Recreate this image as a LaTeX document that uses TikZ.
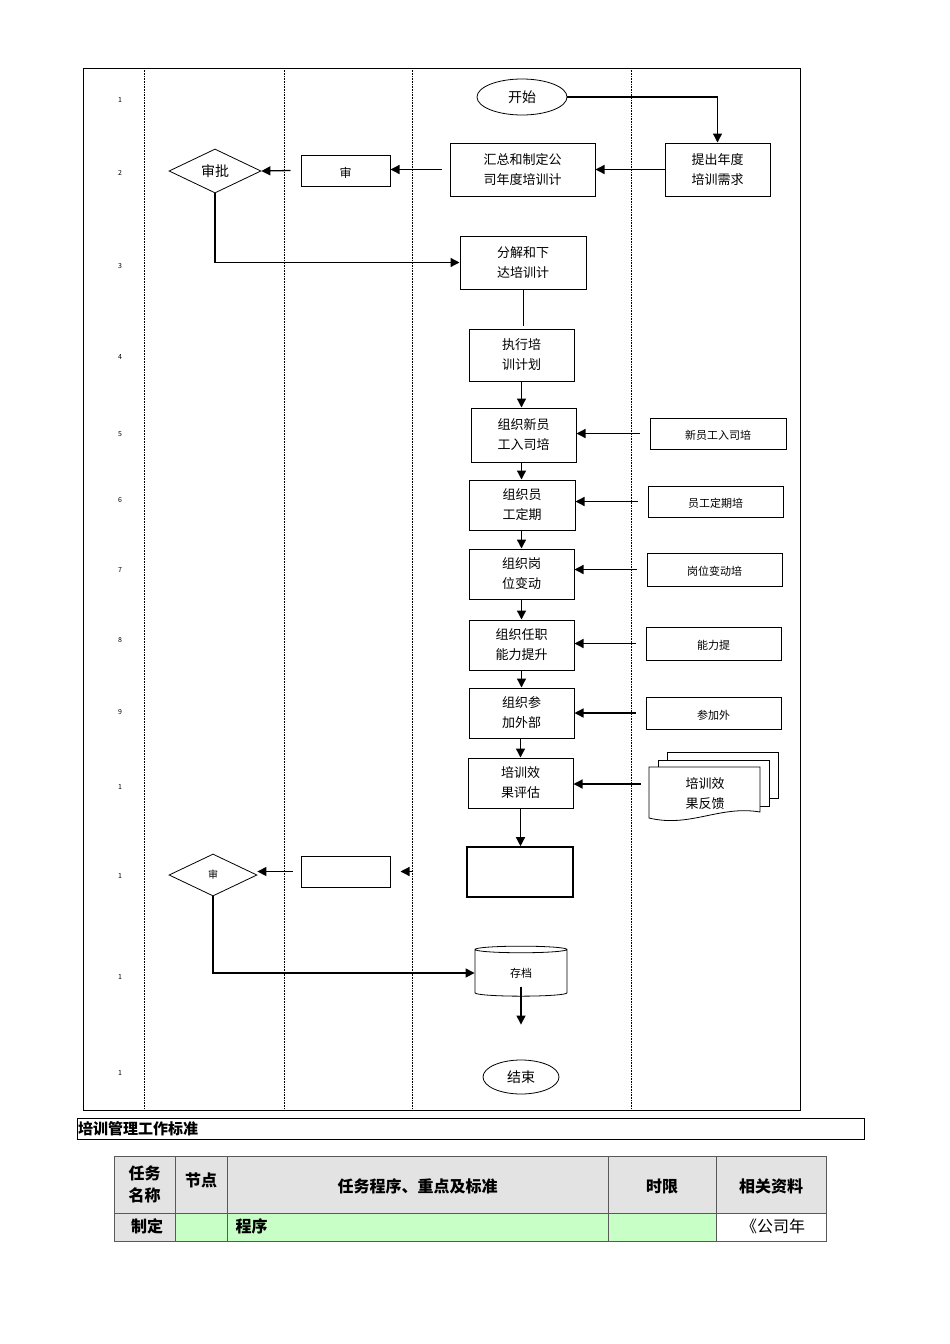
\documentclass[tikz,border=0pt]{standalone}
\usepackage{fontspec}
\setmainfont{Noto Sans CJK SC}
\usetikzlibrary{shapes.geometric,arrows.meta}
\begin{document}
\begin{tikzpicture}[x=1pt,y=-1pt,
  box/.style={draw,line width=1pt,fill=white,align=center,font=\fontsize{13}{20}\selectfont,inner sep=0},
  arr/.style={-{Triangle[length=9pt,width=9pt]},line width=1.3pt},
  lane/.style={densely dotted,line width=0.6pt},
  num/.style={font=\fontsize{7}{8}\selectfont},
  rb/.style={box,font=\fontsize{11}{13}\selectfont},
  th/.style={font=\bfseries\fontsize{16}{22}\selectfont,align=center},
  cell/.style={draw=gray!70!black,line width=0.6pt}]
\useasboundingbox (0,0) rectangle (950,1344);
% frame
\draw[line width=1pt] (83,68) rectangle (800,1110);
\foreach \x in {144,284,412,631} \draw[lane] (\x,68) -- (\x,1110);
\foreach \y/\t in {100/1,173/2,266/3,357/4,434/5,500/6,570/7,640/8,712/9,787/1,876/1,977/1,1073/1}
  \node[num] at (120,\y) {\t};
% nodes
\node[draw,ellipse,line width=0.8pt,minimum width=90,minimum height=36,font=\fontsize{14}{16}\selectfont] (start) at (522,97) {开始};
\node[box,minimum width=105,minimum height=53] (req) at (717.5,169.5) {提出年度\\培训需求};
\node[box,minimum width=145,minimum height=53] (sum) at (522.5,169.5) {汇总和制定公\\司年度培训计};
\node[box,minimum width=89,minimum height=31,font=\fontsize{12}{14}\selectfont] (rev1) at (345.5,170.5) {\\审};
\node[draw,diamond,aspect=2.1,line width=0.8pt,minimum width=92,minimum height=44,inner sep=0,font=\fontsize{14}{16}\selectfont] (app1) at (215,171) {审批};
\node[box,minimum width=126,minimum height=53] (dec) at (523,262.5) {分解和下\\达培训计};
\node[box,minimum width=105,minimum height=52] (exe) at (521.5,355) {执行培\\训计划};
\node[box,minimum width=105,minimum height=54] (n1) at (523.5,435) {组织新员\\工入司培};
\node[box,minimum width=106,minimum height=50] (n2) at (522,505) {组织员\\工定期};
\node[box,minimum width=105,minimum height=50] (n3) at (521.5,574) {组织岗\\位变动};
\node[box,minimum width=105,minimum height=50] (n4) at (521.5,645) {组织任职\\能力提升};
\node[box,minimum width=105,minimum height=50] (n5) at (521.5,713) {组织参\\加外部};
\node[box,minimum width=105,minimum height=50] (n6) at (520.5,783) {培训效\\果评估};
\node[box,line width=1.6pt,minimum width=106,minimum height=50] (n7) at (520,872) {};
\node[box,minimum width=89,minimum height=31] (rev2) at (345.5,871.5) {};
\node[draw,diamond,aspect=2.1,line width=0.8pt,minimum width=88,minimum height=42,inner sep=0,font=\fontsize{10}{11}\selectfont] (app2) at (213,875) {审};
\node[draw,cylinder,shape border rotate=90,aspect=0.3,line width=0.8pt,minimum width=92,minimum height=50,inner sep=0,font=\fontsize{11}{13}\selectfont] (arch) at (521,973) {\\存档};
\node[draw,ellipse,line width=0.8pt,minimum width=76,minimum height=34,font=\fontsize{14}{16}\selectfont] (end) at (521,1077) {结束};
% right side inputs
\node[rb,minimum width=136,minimum height=31] (r1) at (718,433.5) {\\新员工入司培};
\node[rb,minimum width=135,minimum height=31] (r2) at (715.5,501.5) {\\员工定期培};
\node[rb,minimum width=135,minimum height=33] (r3) at (714.5,569.5) {\\岗位变动培};
\node[rb,minimum width=135,minimum height=33] (r4) at (713.5,643.5) {\\能力提};
\node[rb,minimum width=135,minimum height=32] (r5) at (713.5,713) {\\参加外};
% document stack
\draw[line width=0.8pt,fill=white] (667,752) -- (778,752) -- (778,798) -- (667,798) -- cycle;
\draw[line width=0.8pt,fill=white] (658,760) -- (769,760) -- (769,806) -- (658,806) -- cycle;
\draw[line width=0.8pt,fill=white] (649,767) -- (760,767) -- (760,812) .. controls (720,805) and (690,828) .. (649,818) -- cycle;
\node[font=\fontsize{13}{20}\selectfont,align=center] (r6) at (705,794) {培训效\\果反馈};
\coordinate (r6w) at (641,784);
% connectors
\draw[arr] (start.east) -| (req.north);
\draw[arr] (req.west) -- (sum.east);
\draw[arr] ([xshift=-8pt]sum.west) -- (rev1.east |- sum.west);
\draw[arr] ([xshift=-10pt]rev1.west) -- (app1.east);
\draw[arr] (app1.south) |- (dec.west);
\draw[line width=1pt] (dec.south) -- ++(0,36);
\draw[arr] (exe.south) -- (n1.north -| exe.south);
\draw[arr] (n1.south -| exe.south) -- (n2.north -| exe.south);
\draw[arr] (n2.south -| exe.south) -- (n3.north -| exe.south);
\draw[arr] (n3.south -| exe.south) -- (n4.north -| exe.south);
\draw[arr] (n4.south -| exe.south) -- (n5.north -| exe.south);
\draw[arr] (n5.south -| n6.south) -- (n6.north);
\draw[arr] (n6.south) -- (n7.north -| n6.south);
\foreach \r/\n in {r1/n1,r2/n2,r3/n3,r4/n4,r5/n5} \draw[arr] ([xshift=-10pt]\r.west) -- (\n.east |- \r.west);
\draw[arr] (r6w) -- (n6.east |- r6w);
\draw[arr] ([xshift=22pt]rev2.east) -- ([xshift=10pt]rev2.east);
\draw[arr] ([xshift=-8pt]rev2.west) -- (app2.east |- rev2.west);
\draw[arr] (app2.south) |- (arch.west);
\draw[arr] ([yshift=10pt]arch.south) -- ++(0,38);
% title bar
\draw[line width=0.6pt] (77,1118) rectangle (864,1139);
\node[anchor=west,font=\bfseries\fontsize{15}{17}\selectfont,inner sep=1pt] (title) at (77,1129) {培训管理工作标准};
% table
\fill[gray!22] (114,1156) rectangle (826,1213);
\fill[gray!22] (114,1213) rectangle (175,1241);
\fill[green!22] (175,1213) rectangle (716,1241);
\draw[cell] (114,1156) rectangle (826,1241);
\draw[cell] (114,1213) -- (826,1213);
\foreach \x in {175,227,608,716} \draw[cell] (\x,1156) -- (\x,1241);
\node[th] (h1) at (144.5,1184.5) {任务\\名称};
\node[th] (h2) at (201,1180) {节点};
\node[th] (h3) at (417.5,1186) {任务程序、重点及标准};
\node[th] (h4) at (662,1186) {时限};
\node[th] (h5) at (771,1186) {相关资料};
\node[th] (c1) at (147,1226) {制定};
\node[th,anchor=west] (c3) at (232,1226) {程序};
\node[font=\fontsize{16}{18}\selectfont] (c5) at (773,1226) {《公司年};
\end{tikzpicture}
\end{document}
